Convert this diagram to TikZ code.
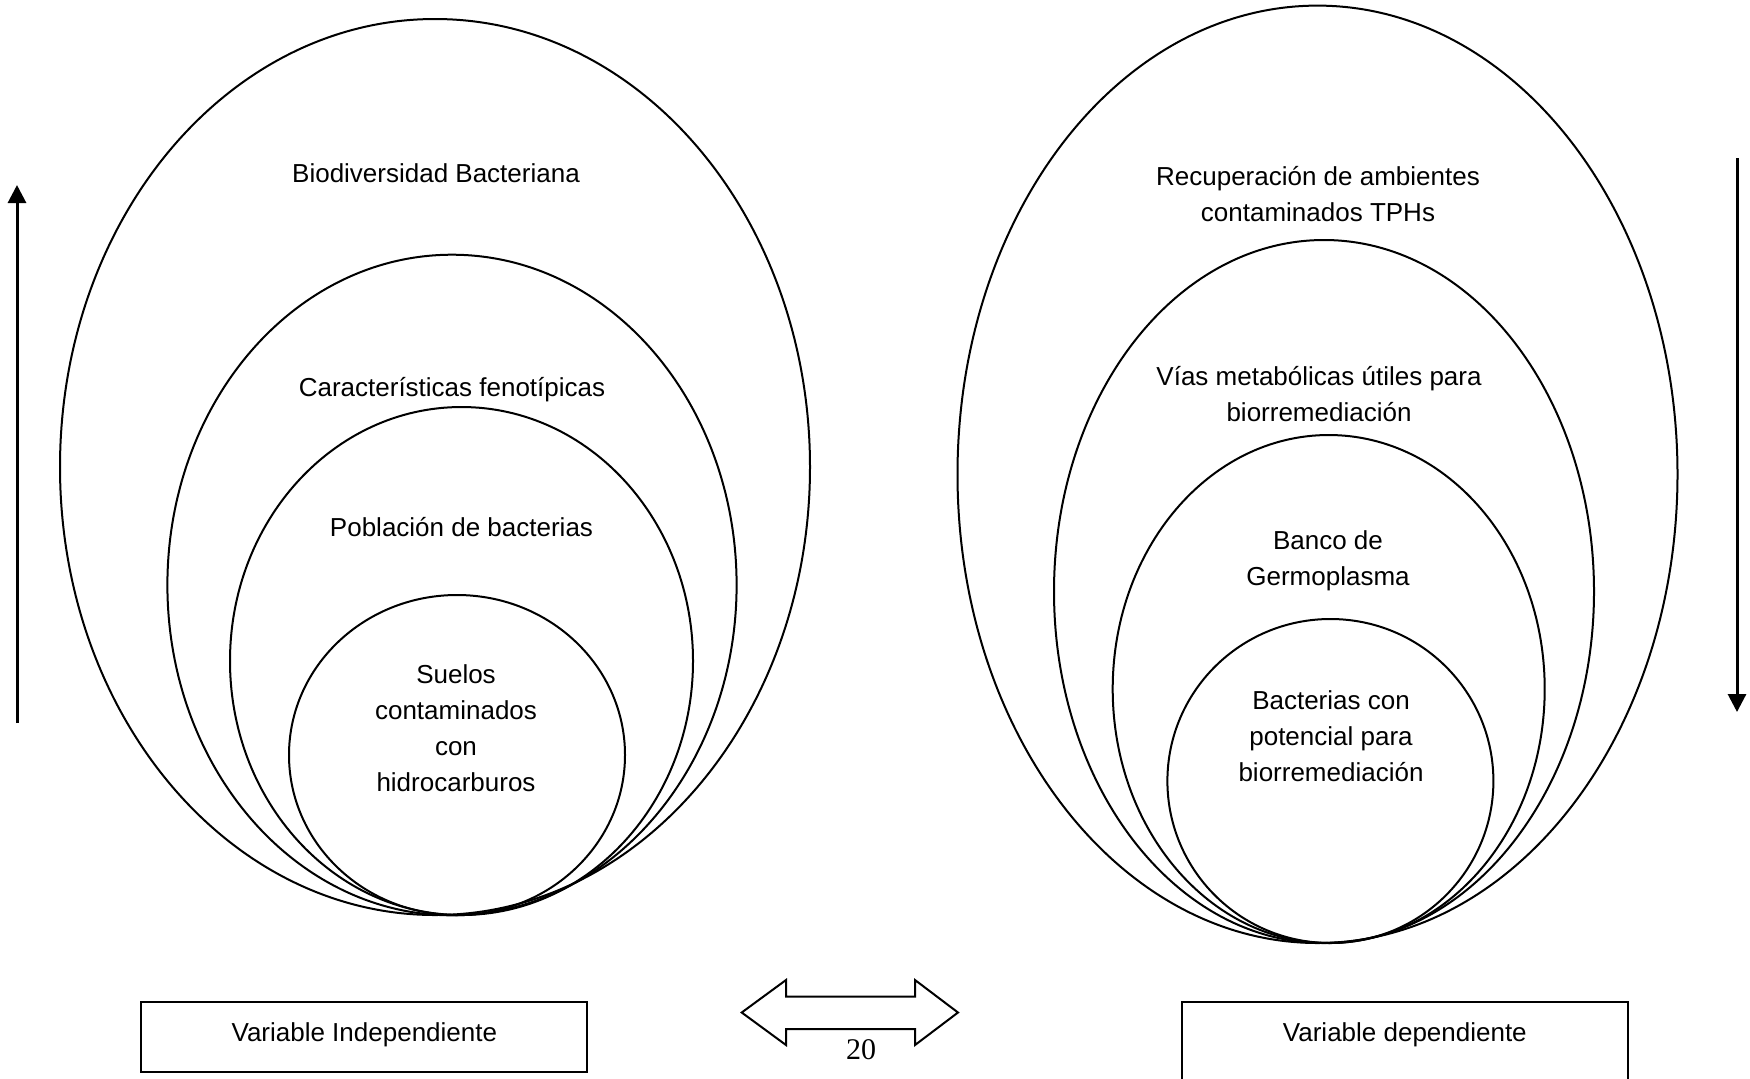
\documentclass[tikz,border=0pt]{standalone}
\usepackage{fontspec}
\setmainfont{Liberation Sans}
\newfontfamily\pagenumfont{Liberation Serif}
\usetikzlibrary{shapes.geometric,arrows.meta}
\tikzset{
  ring/.style={draw, ellipse, inner sep=0pt, line width=1pt},
  lbl/.style={align=center, font=\fontsize{13}{18}\selectfont, inner sep=0pt},
  varbox/.style={draw, rectangle, line width=1pt, inner xsep=0pt, inner ysep=0pt,
    minimum width=223pt, text height=19.65pt, font=\fontsize{13}{18}\selectfont},
  axisarrow/.style={line width=1.5pt, -{Triangle[length=9pt,width=9pt]}},
  dblarrow/.style={line width=1pt, line join=miter},
}
\begin{document}
\begin{tikzpicture}[x=0.5pt,y=-0.5pt]
\useasboundingbox (0,0) rectangle (1750,1078);
\clip (0,0) rectangle (1750,1078);
\fill[white] (0,0) rectangle (1750,1078);

% left group of ellipses
\node[ring, minimum width=375pt, minimum height=448pt] (L1) at (435,467) {};
\node[ring, minimum width=284.6pt, minimum height=330.3pt] (L2) at (452,585) {};
\node[ring, minimum width=231.5pt, minimum height=254pt] (L3) at (461.5,661) {};
\node[ring, minimum width=168pt, minimum height=160pt] (L4) at (457,755) {};

\node[lbl] (t1) at (436,173) {Biodiversidad Bacteriana};
\node[lbl] (t2) at (452,389.5) {Características fenotípicas};
\node[lbl] (t3) at (461.5,527) {Población de bacterias};
\node[lbl] (t4) at (456,728) {Suelos\\contaminados\\con\\hidrocarburos};

% right group of ellipses
\node[ring, minimum width=360pt, minimum height=468.7pt] (R1) at (1317.5,474.3) {};
\node[ring, minimum width=270pt, minimum height=351.5pt] (R2) at (1324,591.5) {};
\node[ring, minimum width=216pt, minimum height=254pt] (R3) at (1328.7,689) {};
\node[ring, minimum width=163pt, minimum height=162pt] (R4) at (1330.4,781) {};

\node[lbl] (u1) at (1318,194) {Recuperación de ambientes\\contaminados TPHs};
\node[lbl] (u2) at (1319,394.5) {Vías metabólicas útiles para\\biorremediación};
\node[lbl] (u3) at (1328,561) {Banco de\\Germoplasma};
\node[lbl] (u4) at (1331,736) {Bacterias con\\potencial para\\biorremediación};

% side arrows
\coordinate (la0) at (17,723);
\coordinate (la1) at (17,185);
\draw[axisarrow] (la0) -- (la1);
\coordinate (ra0) at (1737,158);
\coordinate (ra1) at (1737,712);
\draw[axisarrow] (ra0) -- (ra1);

% boxes
\node[varbox, text depth=15.35pt, anchor=north] (vi) at (364.35,1000.7) {Variable Independiente};
\node[varbox, text depth=40pt, anchor=north] (vd) at (1404.85,1000.7) {Variable dependiente};

% double arrow
\draw[dblarrow] (741.7,1012.5) -- (786,980) -- (786,996.7) -- (915,996.7) -- (915,980)
  -- (958,1012.5) -- (915,1045) -- (915,1029) -- (786,1029) -- (786,1045) -- cycle;

\node[font=\pagenumfont\fontsize{15}{18}\selectfont, inner sep=0pt] (pg) at (861,1050) {20};
\end{tikzpicture}
\end{document}
